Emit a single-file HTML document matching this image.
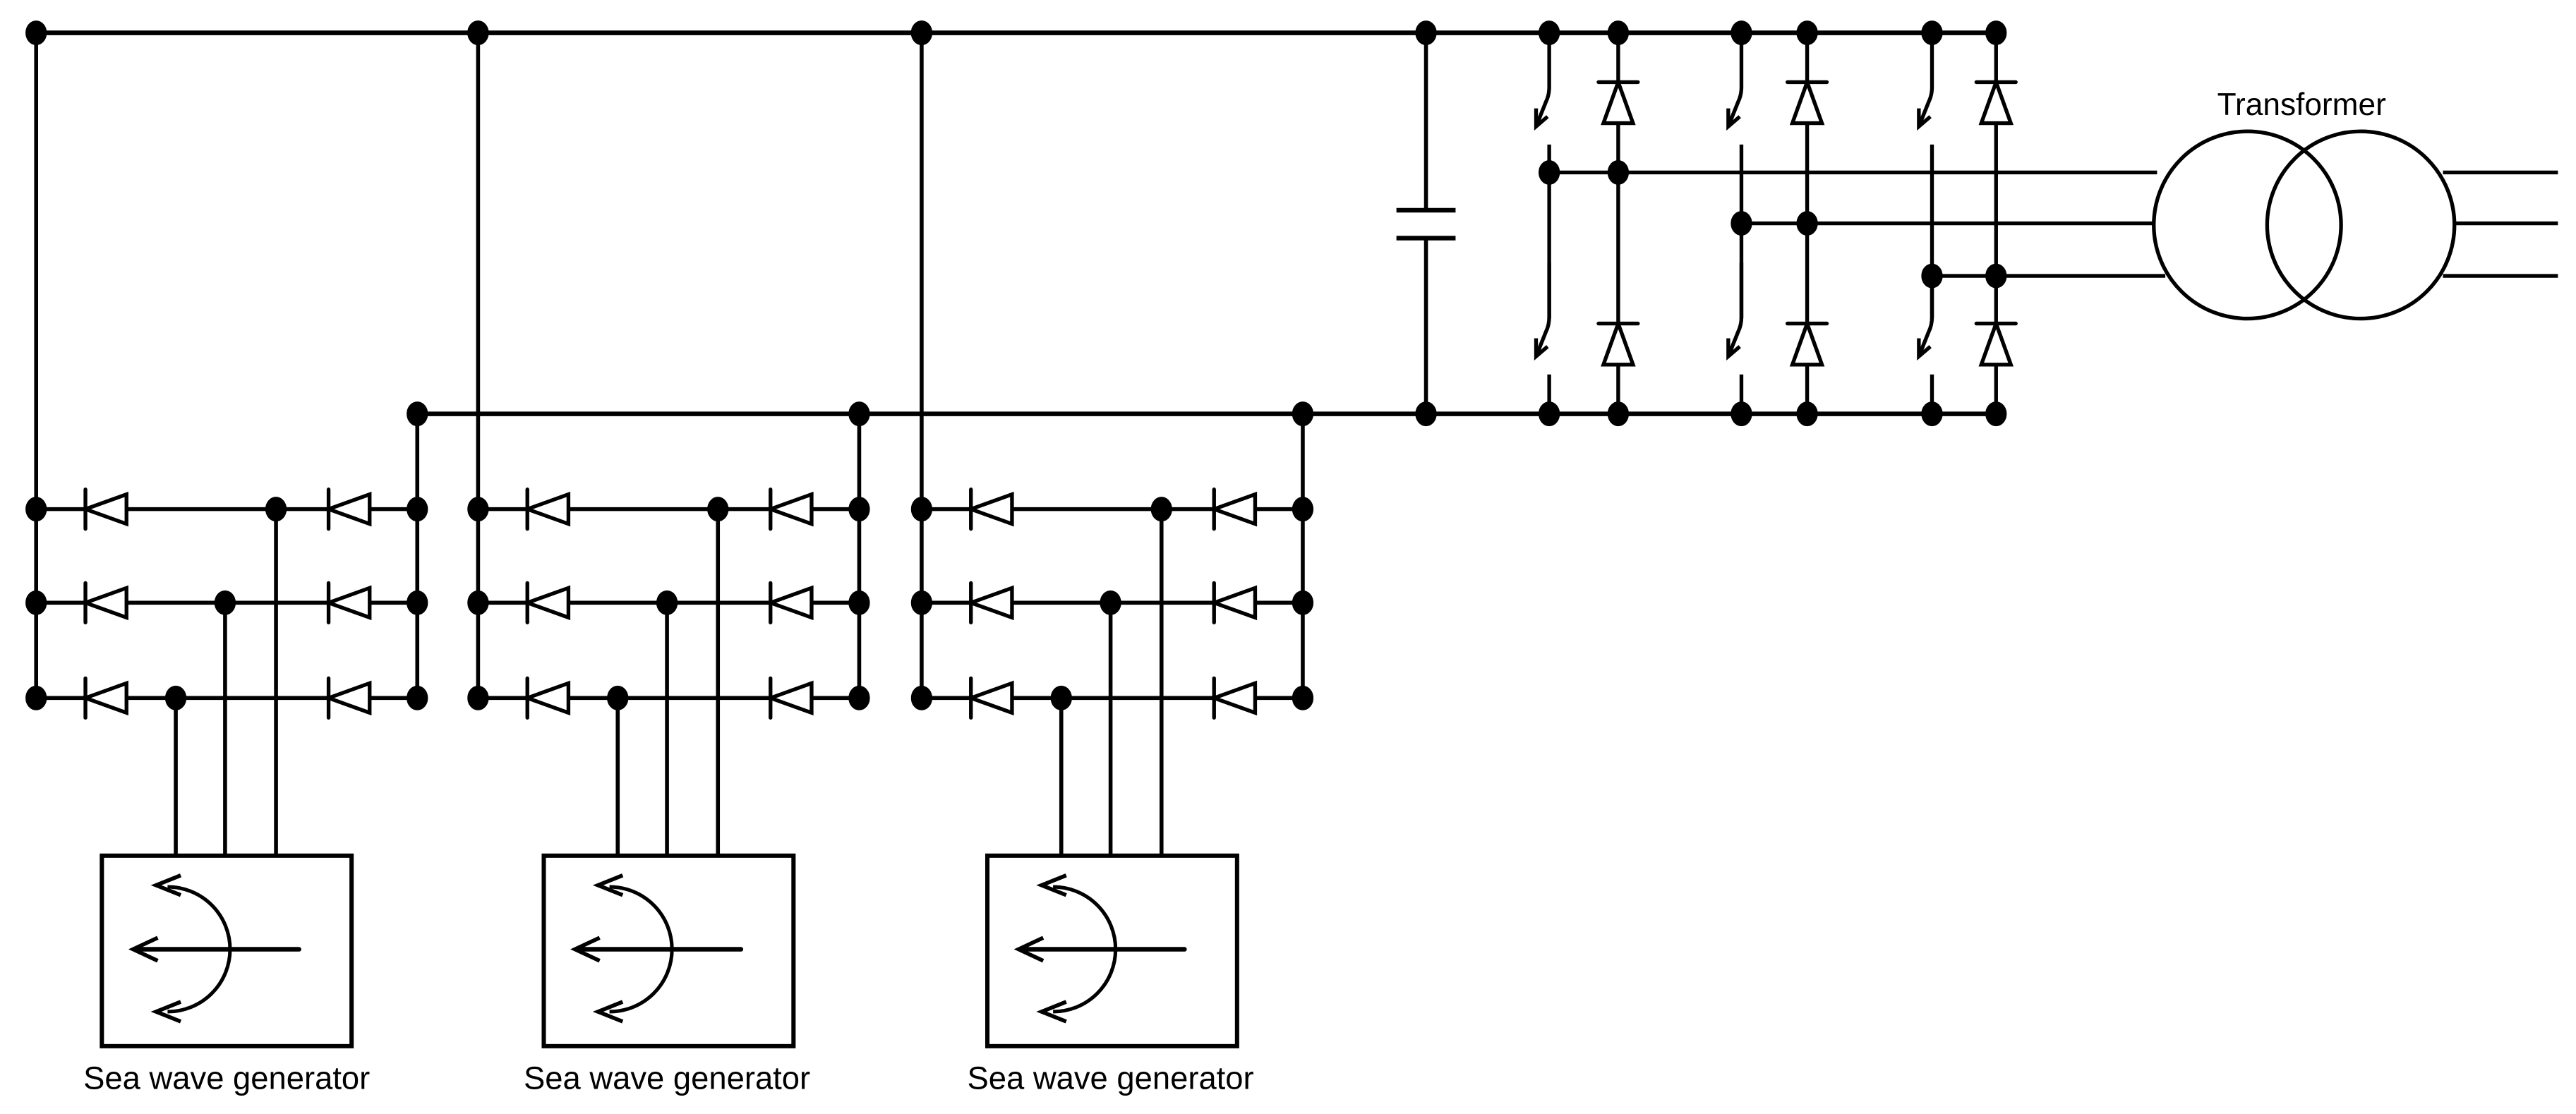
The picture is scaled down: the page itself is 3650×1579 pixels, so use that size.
<!DOCTYPE html>
<html><head><meta charset="utf-8"><style>
html,body{margin:0;padding:0;background:#fff;}
svg{display:block;}
text{font-family:"Liberation Sans",Arial,sans-serif;fill:#000;}
</style></head><body>
<svg width="3650" height="1579" viewBox="0 0 1568 678.3" preserveAspectRatio="none" xmlns="http://www.w3.org/2000/svg">
<defs>
<g id="dot"><ellipse cx="0" cy="0" rx="5.5" ry="6.5" fill="#000" stroke="#000" stroke-width="2"/></g>
<g id="dl" fill="#fff" stroke="#000" stroke-width="2.3">
<polygon points="0,0 25,-9 25,9"/>
<line x1="0" y1="-12" x2="0" y2="12" stroke-linecap="round"/>
</g>
<g id="du" fill="#fff" stroke="#000" stroke-width="2.3">
<polygon points="0,0 -9,25 9,25"/>
<line x1="-12" y1="0" x2="12" y2="0" stroke-linecap="round"/>
</g>
<g id="bridge" stroke="#000" stroke-width="2.4" fill="none">
<line x1="22" y1="20" x2="22" y2="425"/>
<line x1="254" y1="252" x2="254" y2="425"/>
<line x1="22" y1="310" x2="254" y2="310"/>
<line x1="22" y1="367" x2="254" y2="367"/>
<line x1="22" y1="425" x2="254" y2="425"/>
<line x1="168" y1="310" x2="168" y2="521"/>
<line x1="137" y1="367" x2="137" y2="521"/>
<line x1="107" y1="425" x2="107" y2="521"/>
<use href="#dl" x="52" y="310"/><use href="#dl" x="52" y="367"/><use href="#dl" x="52" y="425"/>
<use href="#dl" x="200" y="310"/><use href="#dl" x="200" y="367"/><use href="#dl" x="200" y="425"/>
<use href="#dot" x="22" y="310"/><use href="#dot" x="22" y="367"/><use href="#dot" x="22" y="425"/>
<use href="#dot" x="254" y="310"/><use href="#dot" x="254" y="367"/><use href="#dot" x="254" y="425"/>
<use href="#dot" x="254" y="252"/><use href="#dot" x="22" y="20"/>
<use href="#dot" x="168" y="310"/><use href="#dot" x="137" y="367"/><use href="#dot" x="107" y="425"/>
<rect x="62" y="521" width="152" height="116" stroke-width="2.6"/>
<line x1="84" y1="578" x2="182" y2="578" stroke-width="2.8" stroke-linecap="round"/>
<polyline points="96,571 81,578 96,585" stroke-width="2.4"/>
<path d="M102,540 A38,38 0 1 1 102,616" stroke-width="2.2"/>
<polyline points="110,533 95,539 110,545" stroke-width="2.4"/>
<polyline points="110,610 95,616 110,622" stroke-width="2.4"/>
</g>
<g id="sw" stroke="#000" stroke-width="2.3" fill="none">
<path d="M0,0 V33 Q0,38 -2,42 L-8,57"/>
<polyline points="-8,46 -8,57 -1,51"/>
</g>
</defs>

<g stroke="#000" stroke-width="2.8" fill="none">
<line x1="22" y1="20" x2="1215" y2="20"/>
<line x1="254" y1="252" x2="1215" y2="252"/>
</g>
<use href="#bridge" x="0" y="0"/>
<use href="#bridge" x="269" y="0"/>
<use href="#bridge" x="539" y="0"/>
<g><text x="138" y="663" font-size="19.5" text-anchor="middle">Sea wave generator</text>
<text x="406" y="663" font-size="19.5" text-anchor="middle">Sea wave generator</text>
<text x="676" y="663" font-size="19.5" text-anchor="middle">Sea wave generator</text></g>

<g stroke="#000" stroke-width="2.4">
<line x1="868" y1="20" x2="868" y2="128"/>
<line x1="868" y1="145" x2="868" y2="252"/>
<line x1="850" y1="128" x2="886" y2="128" stroke-width="2.8"/>
<line x1="850" y1="145" x2="886" y2="145" stroke-width="2.8"/>
</g>
<use href="#dot" x="868" y="20"/><use href="#dot" x="868" y="252"/>
<use href="#dot" x="291" y="20"/><use href="#dot" x="561" y="20"/>

<g stroke="#000" stroke-width="2.3" fill="none">
<line x1="943" y1="88" x2="943" y2="194"/><line x1="943" y1="228" x2="943" y2="252"/>
<line x1="1060" y1="88" x2="1060" y2="194"/><line x1="1060" y1="228" x2="1060" y2="252"/>
<line x1="1176" y1="88" x2="1176" y2="194"/><line x1="1176" y1="228" x2="1176" y2="252"/>
<line x1="985" y1="20" x2="985" y2="252"/>
<line x1="1100" y1="20" x2="1100" y2="252"/>
<line x1="1215" y1="20" x2="1215" y2="252"/>
<line x1="943" y1="105" x2="1313" y2="105"/>
<line x1="1060" y1="136" x2="1311" y2="136"/>
<line x1="1176" y1="168" x2="1318" y2="168"/>
<line x1="1487" y1="105" x2="1557" y2="105"/>
<line x1="1494" y1="136" x2="1557" y2="136"/>
<line x1="1487" y1="168" x2="1557" y2="168"/>
<circle cx="1368" cy="137" r="57"/>
<circle cx="1437" cy="137" r="57"/>
</g>
<use href="#sw" x="943" y="20"/><use href="#sw" x="1060" y="20"/><use href="#sw" x="1176" y="20"/>
<use href="#sw" x="943" y="160"/><use href="#sw" x="1060" y="160"/><use href="#sw" x="1176" y="160"/>
<use href="#du" x="985" y="50"/><use href="#du" x="1100" y="50"/><use href="#du" x="1215" y="50"/>
<use href="#du" x="985" y="197"/><use href="#du" x="1100" y="197"/><use href="#du" x="1215" y="197"/>
<use href="#dot" x="943" y="20"/><use href="#dot" x="985" y="20"/><use href="#dot" x="1060" y="20"/><use href="#dot" x="1100" y="20"/><use href="#dot" x="1176" y="20"/><use href="#dot" x="1215" y="20"/>
<use href="#dot" x="943" y="252"/><use href="#dot" x="985" y="252"/><use href="#dot" x="1060" y="252"/><use href="#dot" x="1100" y="252"/><use href="#dot" x="1176" y="252"/><use href="#dot" x="1215" y="252"/>
<use href="#dot" x="943" y="105"/><use href="#dot" x="985" y="105"/>
<use href="#dot" x="1060" y="136"/><use href="#dot" x="1100" y="136"/>
<use href="#dot" x="1176" y="168"/><use href="#dot" x="1215" y="168"/>
<text x="1401" y="70" font-size="19" text-anchor="middle">Transformer</text>
</svg>
</body></html>
